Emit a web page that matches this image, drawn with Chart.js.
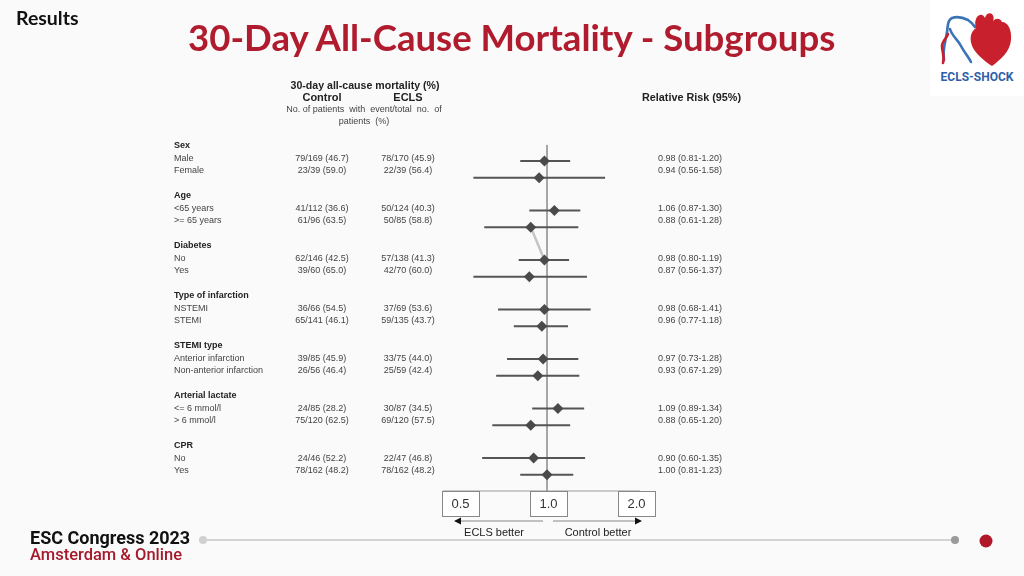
<!DOCTYPE html>
<html>
<head>
<meta charset="utf-8">
<script src="https://cdn.jsdelivr.net/npm/chart.js@4.4.0/dist/chart.umd.min.js"></script>
<style>
  body { margin: 0; background: #fafafa; }
  #slide { position: relative; width: 1024px; height: 576px; overflow: hidden; background: #fafafa; }
  #chart { position: absolute; left: 0; top: 0; }
  .results { position: absolute; left: 16px; top: 6px; font: bold 19.5px Lato, "Open Sans", sans-serif; color: #111; }
  .title { position: absolute; left: 188px; top: 15px; font: bold 36.6px Lato, "Open Sans", sans-serif; color: #b01c2e; white-space: nowrap; }
  .esc { position: absolute; left: 30px; top: 527px; font: bold 18px Roboto, sans-serif; color: #111; }
  .ams { position: absolute; left: 30px; top: 545px; font: 500 16.5px Roboto, sans-serif; color: #a5192b; }
  #logo { position: absolute; left: 930px; top: 0; }
</style>
</head>
<body>
<div id="slide">
  <canvas id="chart" width="1024" height="576"></canvas>
  <div class="results">Results</div>
  <div class="title">30-Day All-Cause Mortality - Subgroups</div>
  <svg id="logo" width="94" height="96" viewBox="0 0 94 96">
    <rect x="0" y="0" width="94" height="96" fill="#ffffff"/>
    <path d="M14 60 C12 50 16 40 17 32 C18 24 18 20 22 18 C28 16 34 18 38 20 C41 22 43 24 45 27" stroke="#3a73b8" stroke-width="2.6" fill="none" stroke-linecap="round"/>
    <path d="M20 29 C22 36 28 40 31 46 C34 52 38 56 41 62" stroke="#3a73b8" stroke-width="2.6" fill="none" stroke-linecap="round"/>
    <path d="M18 34 C17 38 12 41 12 46 C12 52 15 56 13 63" stroke="#c8202c" stroke-width="2.6" fill="none" stroke-linecap="round"/>
    <path d="M46 28 C44 22 46 16 50 15 C52 14 54 16 55 18 C56 14 59 12 62 14 C64 16 64 19 63 21 C66 18 70 18 72 22 C78 22 82 30 81 40 C80 52 70 60 62 66 C56 62 48 56 43 48 C39 40 40 32 46 28 Z" fill="#c8202c"/>
    <text x="47" y="81" text-anchor="middle" font-family="Roboto, sans-serif" font-weight="bold" font-size="12" fill="#2e5fa8">ECLS-SHOCK</text>
  </svg>
  <div class="esc">ESC Congress 2023</div>
  <div class="ams">Amsterdam &amp; Online</div>
</div>
<script>
// subgroup names
var groups = ["Sex", "Age", "Diabetes", "Type of infarction", "STEMI type", "Arterial lactate", "CPR"];
var subgroups = ["Male", "Female", "<65 years", ">= 65 years", "No", "Yes", "NSTEMI", "STEMI",
  "Anterior infarction", "Non-anterior infarction", "<= 6 mmol/l", "> 6 mmol/l", "No", "Yes"];

// control arm: events / total (%)
var controlEvents = [79, 23, 41, 61, 62, 39, 36, 65, 39, 26, 24, 75, 24, 78];
var controlTotal = [169, 39, 112, 96, 146, 60, 66, 141, 85, 56, 85, 120, 46, 162];
var controlPct = [46.7, 59.0, 36.6, 63.5, 42.5, 65.0, 54.5, 46.1, 45.9, 46.4, 28.2, 62.5, 52.2, 48.2];

// ECLS arm: events / total (%)
var eclsEvents = [78, 22, 50, 50, 57, 42, 37, 59, 33, 25, 30, 69, 22, 78];
var eclsTotal = [170, 39, 124, 85, 138, 70, 69, 135, 75, 59, 87, 120, 47, 162];
var eclsPct = [45.9, 56.4, 40.3, 58.8, 41.3, 60.0, 53.6, 43.7, 44.0, 42.4, 34.5, 57.5, 46.8, 48.2];

// relative risk with 95% CI
var rr = [0.98, 0.94, 1.06, 0.88, 0.98, 0.87, 0.98, 0.96, 0.97, 0.93, 1.09, 0.88, 0.90, 1.00];
var lo = [0.81, 0.56, 0.87, 0.61, 0.80, 0.56, 0.68, 0.77, 0.73, 0.67, 0.89, 0.65, 0.60, 0.81];
var hi = [1.20, 1.58, 1.30, 1.28, 1.19, 1.37, 1.41, 1.18, 1.28, 1.29, 1.34, 1.20, 1.35, 1.23];

// axis ticks
var tickValues = [0.5, 1.0, 2.0];
var tickLabels = ["0.5", "1.0", "2.0"];

// row helpers (one unit = one text line)
function textRow(i) { return Math.floor(i / 2) * 4 + 1 + (i % 2); }
function markRow(i) { return Math.floor(i / 2) * 3.96 + 1.2 + (i % 2) * 1.33; }

var markers = rr.map(function (v, i) { return { x: v, y: markRow(i) }; });
var ciSegs = [];
lo.forEach(function (v, i) {
  ciSegs.push({ x: v, y: markRow(i) }, { x: hi[i], y: markRow(i) }, { x: 1, y: null });
});
var refLine = [{ x: 1, y: -0.1 }, { x: 1, y: 27.6 }];
var joinLine = [markers[3], markers[4]];

function fmt(n, t, p) { return n + "/" + t + " (" + p.toFixed(1) + ")"; }

var tablePlugin = {
  id: 'table',
  afterDraw: function (chart) {
    var ctx = chart.ctx, xs = chart.scales.x, ys = chart.scales.y;
    ctx.save();
    ctx.textBaseline = 'middle';

    // column headers
    ctx.fillStyle = '#222';
    ctx.textAlign = 'center';
    ctx.font = 'bold 10.6px "Liberation Sans", Arial, sans-serif';
    ctx.fillText('30-day all-cause mortality (%)', 365, 86);
    ctx.font = 'bold 11px "Liberation Sans", Arial, sans-serif';
    ctx.fillText('Control', 322, 98);
    ctx.fillText('ECLS', 408, 98);
    ctx.font = '9px "Liberation Sans", Arial, sans-serif';
    ctx.fillStyle = '#444';
    ctx.fillText('No. of patients  with  event/total  no.  of', 364, 110);
    ctx.fillText('patients  (%)', 364, 122);
    ctx.font = 'bold 10.8px "Liberation Sans", Arial, sans-serif';
    ctx.fillStyle = '#222';
    ctx.textAlign = 'left';
    ctx.fillText('Relative Risk (95%)', 642, 98);

    // group headers
    ctx.font = 'bold 9px "Liberation Sans", Arial, sans-serif';
    groups.forEach(function (g, k) {
      ctx.fillText(g, 174, ys.getPixelForValue(k * 4));
    });

    // subgroup rows
    ctx.font = '9px "Liberation Sans", Arial, sans-serif';
    ctx.fillStyle = '#444';
    subgroups.forEach(function (s, i) {
      var y = ys.getPixelForValue(textRow(i));
      ctx.textAlign = 'left';
      ctx.fillText(s, 174, y);
      ctx.textAlign = 'center';
      ctx.fillText(fmt(controlEvents[i], controlTotal[i], controlPct[i]), 322, y);
      ctx.fillText(fmt(eclsEvents[i], eclsTotal[i], eclsPct[i]), 408, y);
      ctx.textAlign = 'left';
      ctx.fillText(rr[i].toFixed(2) + ' (' + lo[i].toFixed(2) + '-' + hi[i].toFixed(2) + ')', 658, y);
    });

    // bottom axis line
    var yb = ys.getPixelForValue(27.6);
    ctx.strokeStyle = '#999';
    ctx.lineWidth = 1;
    ctx.beginPath();
    ctx.moveTo(xs.getPixelForValue(0.44), yb);
    ctx.lineTo(xs.getPixelForValue(2.08), yb);
    ctx.stroke();

    // tick boxes
    ctx.font = '13px "Liberation Sans", Arial, sans-serif';
    ctx.textAlign = 'center';
    tickValues.forEach(function (v, k) {
      var cx = xs.getPixelForValue(v) + 1.5;
      ctx.fillStyle = '#fff';
      ctx.fillRect(cx - 18.5, yb + 0.5, 37, 25);
      ctx.strokeStyle = '#888';
      ctx.strokeRect(cx - 18.5 + 0.5, yb + 0.5, 37, 25);
      ctx.fillStyle = '#333';
      ctx.fillText(tickLabels[k], cx, yb + 13.5);
    });

    // arrows
    var ya = yb + 30, x1 = xs.getPixelForValue(1);
    var xl = xs.getPixelForValue(0.5) - 3, xr = xs.getPixelForValue(2.0) + 5;
    ctx.strokeStyle = '#888';
    ctx.beginPath();
    ctx.moveTo(x1 - 4, ya); ctx.lineTo(xl, ya);
    ctx.moveTo(x1 + 6, ya); ctx.lineTo(xr, ya);
    ctx.stroke();
    ctx.fillStyle = '#111';
    ctx.beginPath();
    ctx.moveTo(xl - 2, ya); ctx.lineTo(xl + 5, ya - 3.5); ctx.lineTo(xl + 5, ya + 3.5); ctx.closePath();
    ctx.moveTo(xr + 2, ya); ctx.lineTo(xr - 5, ya - 3.5); ctx.lineTo(xr - 5, ya + 3.5); ctx.closePath();
    ctx.fill();
    ctx.font = '11px "Liberation Sans", Arial, sans-serif';
    ctx.fillStyle = '#222';
    ctx.fillText('ECLS better', 494, ya + 12);
    ctx.fillText('Control better', 598, ya + 12);

    // footer line
    ctx.strokeStyle = '#d4d4d4';
    ctx.lineWidth = 2;
    ctx.beginPath();
    ctx.moveTo(203, 540); ctx.lineTo(955, 540);
    ctx.stroke();
    ctx.fillStyle = '#d0d0d0';
    ctx.beginPath(); ctx.arc(203, 540, 4, 0, Math.PI * 2); ctx.fill();
    ctx.fillStyle = '#9a9a9a';
    ctx.beginPath(); ctx.arc(955, 540, 4, 0, Math.PI * 2); ctx.fill();
    ctx.fillStyle = '#b0182a';
    ctx.beginPath(); ctx.arc(986, 541, 6.5, 0, Math.PI * 2); ctx.fill();
    ctx.restore();
  }
};

var ctx = document.getElementById('chart').getContext('2d');
new Chart(ctx, {
  type: 'scatter',
  data: {
    datasets: [{
      label: 'RR',
      data: markers,
      pointStyle: 'rectRot',
      pointRadius: 5.5,
      backgroundColor: '#4a4a4a',
      borderWidth: 0
    }, {
      label: 'CI',
      type: 'line',
      data: ciSegs,
      borderColor: '#555',
      borderWidth: 2,
      pointRadius: 0,
      spanGaps: false
    }, {
      label: 'join',
      type: 'line',
      data: joinLine,
      borderColor: '#c4c4c4',
      borderWidth: 2.5,
      pointRadius: 0
    }, {
      label: 'ref',
      type: 'line',
      data: refLine,
      borderColor: '#9a9a9a',
      borderWidth: 1,
      pointRadius: 0
    }]
  },
  options: {
    responsive: false,
    animation: false,
    layout: { padding: { left: 371, right: 301, top: 144.75, bottom: 85 } },
    scales: {
      x: { type: 'logarithmic', min: 0.25, max: 4, display: false },
      y: { type: 'linear', min: -0.1, max: 27.6, reverse: true, display: false }
    },
    plugins: { legend: { display: false }, tooltip: { enabled: false } }
  },
  plugins: [tablePlugin]
});
</script>
</body>
</html>
